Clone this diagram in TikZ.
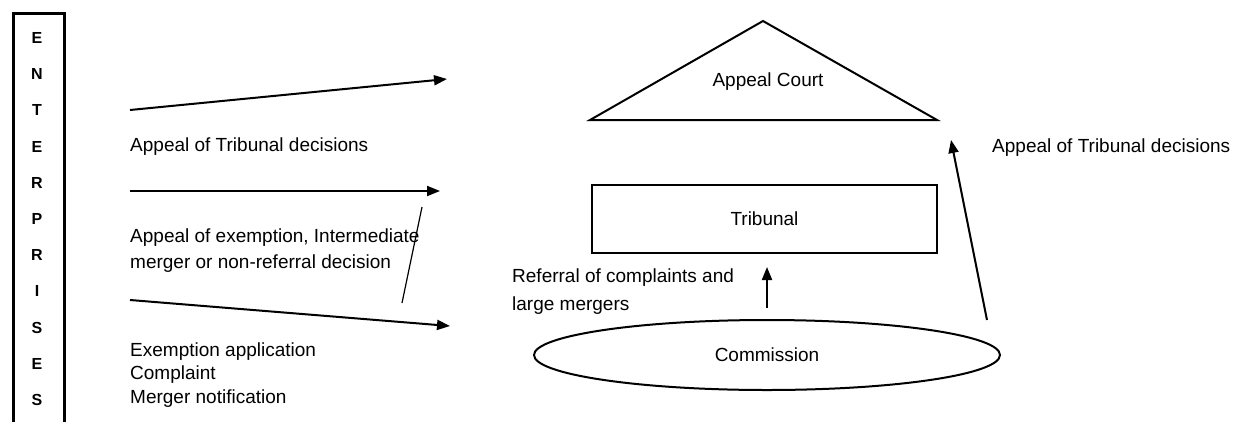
\documentclass[tikz,border=0pt]{standalone}
\usepackage{fontspec}
\setmainfont{Liberation Sans}
\usetikzlibrary{arrows.meta,shapes.geometric}
\begin{document}
\begin{tikzpicture}[x=1pt,y=-1pt,
  lbl/.style={font=\fontsize{19}{26}\selectfont, inner sep=0pt, align=left},
  ln/.style={line width=2pt},
  arr/.style={ln,-{Triangle[length=13pt,width=10pt]}},
  letter/.style={font=\fontsize{16}{20}\selectfont\bfseries, inner sep=0pt}]
\useasboundingbox (0,0) rectangle (1241,421);
\clip (0,0) rectangle (1241,421);
% Enterprises column
\node[draw, line width=2.6pt, minimum width=51pt, minimum height=430pt, anchor=north west, inner sep=0pt] (ent) at (12,12) {};
\foreach \l [count=\i] in {E,N,T,E,R,P,R,I,S,E,S}
  \node[letter] (l\i) at (37,{38+36.2*(\i-1)}) {\l};
% left arrows and labels
\coordinate (a1s) at (130,110); \coordinate (a1e) at (447,79);
\draw[arr] (a1s) -- (a1e);
\node[lbl, anchor=west] (t1) at (130,147) {Appeal of Tribunal decisions};
\coordinate (a2s) at (130,191); \coordinate (a2e) at (440,191);
\draw[arr] (a2s) -- (a2e);
\node[lbl, anchor=west] (t2) at (130,251) {Appeal of exemption, Intermediate\\merger or non-referral decision};
\coordinate (s1) at (402,303); \coordinate (s2) at (422,207);
\draw[line width=1.2pt] (s1) -- (s2);
\coordinate (a3s) at (130,300); \coordinate (a3e) at (450,326);
\draw[arr] (a3s) -- (a3e);
\node[lbl, anchor=west, font=\fontsize{19}{23.5}\selectfont] (t3) at (130,375) {Exemption application\\Complaint\\Merger notification};
% Appeal Court triangle
\coordinate (tl) at (590,120); \coordinate (tt) at (763,21); \coordinate (tr) at (937,120);
\draw[ln, line join=miter] (tl) -- (tt) -- (tr) -- cycle;
\node[lbl] (court) at (768,82) {Appeal Court};
% Tribunal
\node[draw, ln, minimum width=345pt, minimum height=68pt, inner sep=0pt, font=\fontsize{19}{22}\selectfont] (trib) at (764.5,219) {Tribunal};
% Commission
\node[ellipse, draw, ln, minimum width=466pt, minimum height=70pt, inner sep=0pt, font=\fontsize{19}{22}\selectfont] (comm) at (767,355) {Commission};
% referral
\coordinate (r1) at (767,308); \coordinate (r2) at (767,267);
\draw[arr] (r1) -- (r2);
\node[lbl, anchor=west, font=\fontsize{19}{28}\selectfont] (t4) at (512,292) {Referral of complaints and\\large mergers};
% right arrow
\coordinate (b1) at (987,320); \coordinate (b2) at (951,140);
\draw[arr] (b1) -- (b2);
\node[lbl, anchor=west] (t5) at (992,148) {Appeal of Tribunal decisions};
\end{tikzpicture}
\end{document}
